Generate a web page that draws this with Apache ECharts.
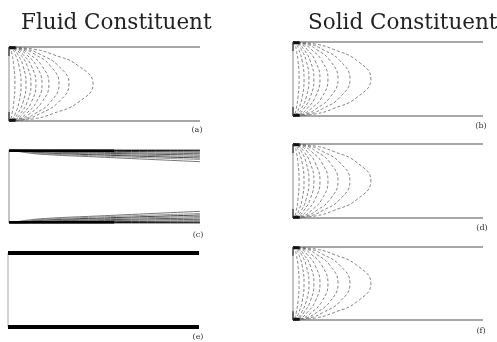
<!DOCTYPE html>
<html>
<head>
<meta charset="utf-8">
<script src="https://cdn.jsdelivr.net/npm/echarts@6/dist/echarts.min.js"></script>
<style>
  html, body { margin: 0; padding: 0; background: #fff; }
  #main { width: 497px; height: 342px; }
</style>
</head>
<body>
<div id="main"></div>
<script>
// y levels shared by every contour curve (bottom wall = 0, top wall = 1)
var curveLevels = [1, 0.97, 0.9, 0.75, 0.5, 0.25, 0.1, 0.03, 0];

// fluid constituent (a): x of each contour at the y levels above
var fluidCurves = [
  [0, 0.132, 0.229, 0.361, 0.44, 0.361, 0.229, 0.132, 0],
  [0, 0.094, 0.163, 0.257, 0.314, 0.257, 0.163, 0.094, 0],
  [0, 0.079, 0.136, 0.215, 0.262, 0.215, 0.136, 0.079, 0],
  [0, 0.063, 0.109, 0.171, 0.209, 0.171, 0.109, 0.063, 0],
  [0, 0.052, 0.09, 0.142, 0.173, 0.142, 0.09, 0.052, 0],
  [0, 0.042, 0.073, 0.116, 0.141, 0.116, 0.073, 0.042, 0],
  [0, 0.035, 0.06, 0.094, 0.115, 0.094, 0.06, 0.035, 0],
  [0, 0.027, 0.046, 0.073, 0.089, 0.073, 0.046, 0.027, 0],
  [0, 0.019, 0.033, 0.052, 0.063, 0.052, 0.033, 0.019, 0],
  [0, 0.009, 0.016, 0.025, 0.031, 0.025, 0.016, 0.009, 0]
];

// solid constituent (b), (d), (f)
var solidCurves = [
  [0, 0.123, 0.213, 0.336, 0.41, 0.336, 0.213, 0.123, 0],
  [0, 0.09, 0.156, 0.246, 0.30, 0.246, 0.156, 0.09, 0],
  [0, 0.071, 0.123, 0.194, 0.237, 0.194, 0.123, 0.071, 0],
  [0, 0.055, 0.096, 0.151, 0.184, 0.151, 0.096, 0.055, 0],
  [0, 0.043, 0.074, 0.116, 0.142, 0.116, 0.074, 0.043, 0],
  [0, 0.033, 0.057, 0.09, 0.11, 0.09, 0.057, 0.033, 0],
  [0, 0.025, 0.044, 0.069, 0.084, 0.069, 0.044, 0.025, 0],
  [0, 0.017, 0.03, 0.048, 0.058, 0.048, 0.03, 0.017, 0],
  [0, 0.01, 0.017, 0.026, 0.032, 0.026, 0.017, 0.01, 0]
];

// fluid (c): near-wall lines, x positions and distance from the wall
var fanX = [0, 0.15, 0.5, 1];
var fanOffsets = [
  [0, 0.004, 0.006, 0.01],
  [0, 0.01, 0.018, 0.028],
  [0, 0.018, 0.033, 0.05],
  [0, 0.025, 0.045, 0.07],
  [0, 0.03, 0.058, 0.09],
  [0, 0.038, 0.07, 0.11],
  [0, 0.045, 0.085, 0.13],
  [0, 0.055, 0.1, 0.16]
];
var fanColors = ['#111', '#333', '#666', '#555', '#888', '#444', '#999', '#777'];

var panelLabels = ['(a)', '(b)', '(c)', '(d)', '(e)', '(f)'];

var grids = [
  { left: 9, top: 47, width: 191, height: 74 },
  { left: 293, top: 42, width: 190, height: 74 },
  { left: 9, top: 150, width: 191, height: 73 },
  { left: 293, top: 144, width: 190, height: 74 },
  { left: 8, top: 253, width: 191, height: 74 },
  { left: 293, top: 247, width: 190, height: 73 }
];
var labelPos = [[197, 130], [481, 126], [198, 235], [482, 228], [198, 337], [481, 331]];

var xAxes = [], yAxes = [], series = [];
grids.forEach(function (g, i) {
  xAxes.push({ gridIndex: i, type: 'value', min: 0, max: 1, show: false });
  yAxes.push({ gridIndex: i, type: 'value', min: 0, max: 1, show: false });
});

function line(i, data, color, width, opts) {
  var s = {
    type: 'line', xAxisIndex: i, yAxisIndex: i, data: data,
    symbol: 'none', clip: false, silent: true,
    lineStyle: { color: color, width: width }
  };
  if (opts) Object.assign(s, opts);
  series.push(s);
}

function frame(i) {
  line(i, [[0, 1], [1, 1]], '#8a8a8a', 1.5);
  line(i, [[0, 0], [1, 0]], '#8a8a8a', 1.5);
  line(i, [[0, 0], [0, 1]], '#8a8a8a', 1);
}

function contours(i, curves) {
  frame(i);
  curves.forEach(function (c) {
    line(i, c.map(function (x, k) { return [x, curveLevels[k]]; }), '#666', 0.8,
      { smooth: 0.5, lineStyle: { color: '#666', width: 0.8, type: [3, 2] } });
  });
  line(i, [[0, 0.99], [0.035, 0.99]], '#111', 3);
  line(i, [[0, 0.01], [0.035, 0.01]], '#111', 3);
  line(i, [[0, 0], [0, 0.12]], '#333', 1.2);
  line(i, [[0, 0.88], [0, 1]], '#333', 1.2);
}

contours(0, fluidCurves);
contours(1, solidCurves);
contours(3, solidCurves);
contours(5, solidCurves);

// (c)
frame(2);
fanOffsets.forEach(function (o, k) {
  line(2, o.map(function (d, j) { return [fanX[j], 1 - d]; }), fanColors[k], 1, { smooth: 0.3 });
  line(2, o.map(function (d, j) { return [fanX[j], d]; }), fanColors[k], 1, { smooth: 0.3 });
});
line(2, [[0, 0.99], [0.55, 0.99]], '#000', 2.5);
line(2, [[0, 0.01], [0.55, 0.01]], '#000', 2.5);

// (e)
line(4, [[0, 0], [0, 1]], '#aaa', 1);
line(4, [[0, 1], [1, 1]], '#000', 4);
line(4, [[0, 0], [1, 0]], '#000', 4);

var chart = echarts.init(document.getElementById('main'), null, { renderer: 'canvas' });
chart.setOption({
  backgroundColor: '#fff',
  animation: false,
  title: [
    { text: 'Fluid Constituent', left: 16, top: 7,
      textStyle: { fontFamily: 'DejaVu Serif', fontSize: 21.5, fontWeight: 'normal', color: '#222' } },
    { text: 'Solid Constituent', left: 303, top: 7,
      textStyle: { fontFamily: 'DejaVu Serif', fontSize: 21.5, fontWeight: 'normal', color: '#222' } }
  ],
  grid: grids,
  xAxis: xAxes,
  yAxis: yAxes,
  series: series,
  graphic: panelLabels.map(function (t, i) {
    return {
      type: 'text', x: labelPos[i][0], y: labelPos[i][1],
      style: { text: t, fontFamily: 'DejaVu Serif', fontSize: 8, fill: '#333',
        align: 'center', verticalAlign: 'middle' }
    };
  })
});
</script>
</body>
</html>
